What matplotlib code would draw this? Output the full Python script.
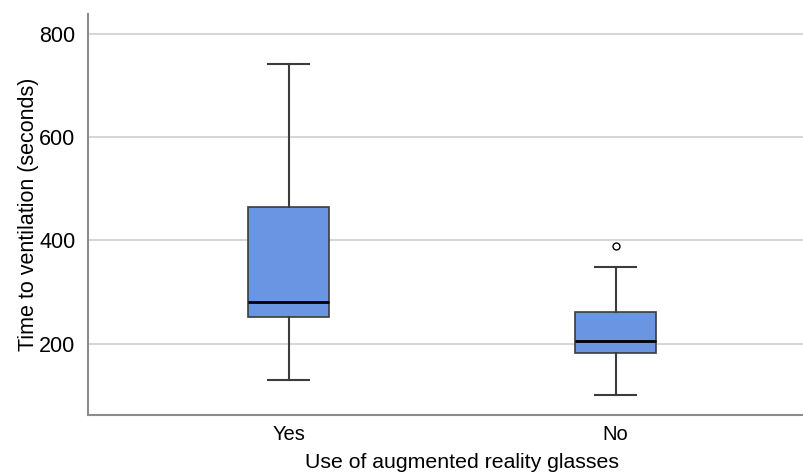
import matplotlib.pyplot as plt

plt.rcParams['font.family'] = ['Liberation Sans', 'DejaVu Sans']

groups = ['Yes', 'No']
whislo = [130, 101]
q1 = [251, 181]
med = [280, 205]
q3 = [465, 261]
whishi = [741, 348]
fliers = [[], [390]]

stats = []
for i in range(len(groups)):
    stats.append(dict(label=groups[i], whislo=whislo[i], q1=q1[i], med=med[i],
                      q3=q3[i], whishi=whishi[i], fliers=fliers[i]))

fig = plt.figure(figsize=(8.04, 4.72), dpi=100)
ax = fig.add_axes([0.1095, 0.1208, 0.8905, 0.8495])

edge = '#3c3c3c'
ax.bxp(stats, positions=[0, 1], widths=0.25, patch_artist=True,
       boxprops=dict(facecolor='#6995e2', edgecolor=edge, linewidth=1.2),
       medianprops=dict(color='black', linewidth=2),
       whiskerprops=dict(color=edge, linewidth=1.5),
       capprops=dict(color=edge, linewidth=1.5),
       capwidths=0.125,
       flierprops=dict(marker='o', markersize=5, markerfacecolor='none',
                       markeredgecolor='black', markeredgewidth=1))

ax.set_xlim(-0.613, 1.576)
ax.set_ylim(62, 838)
ax.set_yticks([200, 400, 600, 800])
ax.yaxis.grid(True, color='#d0d0d0', linewidth=1.2)
ax.set_axisbelow(True)
ax.tick_params(axis='y', length=0, labelsize=15.5, pad=9)
ax.tick_params(axis='x', length=0, labelsize=14.5, pad=7)
for s in ['top', 'right']:
    ax.spines[s].set_visible(False)
for s in ['left', 'bottom']:
    ax.spines[s].set_color('#8c8c8c')
    ax.spines[s].set_linewidth(1.5)

ax.set_xlabel('Use of augmented reality glasses', fontsize=15.3)
ax.xaxis.set_label_coords(0.522, -0.095)
ax.set_ylabel('Time to ventilation (seconds)', fontsize=15.5, labelpad=0)

fig.savefig('out.png', dpi=100)
